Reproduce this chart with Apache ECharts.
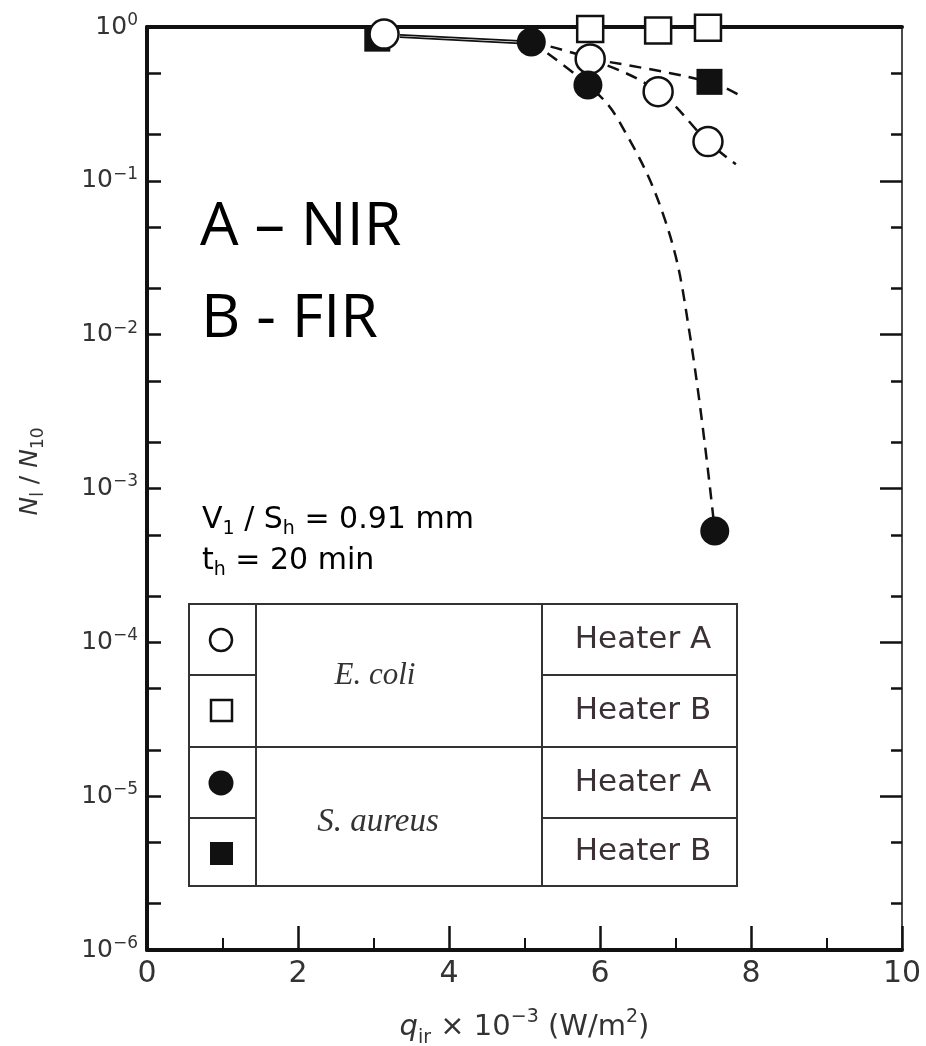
<!DOCTYPE html>
<html>
<head>
<meta charset="utf-8">
<script src="https://cdn.jsdelivr.net/npm/echarts@6/dist/echarts.min.js"></script>
<style>
  html, body { margin: 0; background: #fff; }
  #chart { width: 926px; height: 1046px; }
</style>
</head>
<body>
<div id="chart"></div>
<script>
// measured points [q_ir x 1e-3, N/N0]
const ecoliA = [[3.14, 0.90], [5.87, 0.62], [6.77, 0.38], [7.43, 0.18]];
const ecoliB = [[5.87, 0.97], [6.77, 0.95], [7.43, 0.99]];
const aureusA = [[5.09, 0.80], [5.84, 0.42], [7.52, 0.00053]];
const aureusB = [[3.05, 0.84], [7.45, 0.44]];

// hand drawn fit curves
const fitStart1 = [[3.35, 0.89], [5.0, 0.81]];
const fitStart2 = [[3.35, 0.86], [5.0, 0.78]];
const fitAureusA = [[5.09, 0.80], [5.84, 0.42], [6.24, 0.25], [6.86, 0.056], [7.19, 0.01], [7.52, 0.00053]];
const fitEcoliA = [[5.09, 0.80], [5.87, 0.62], [6.77, 0.38], [7.43, 0.18], [7.8, 0.128]];
const fitAureusB = [[5.87, 0.62], [7.45, 0.44], [7.89, 0.35]];

// axis ticks
const yLabelValues = [1, 1e-1, 1e-2, 1e-3, 1e-4, 1e-5, 1e-6];
const yMinorValues = [0.5, 0.2, 5e-2, 2e-2, 5e-3, 2e-3, 5e-4, 2e-4, 5e-5, 2e-5, 5e-6, 2e-6];
const yTickValues = yLabelValues.concat(yMinorValues);

const ink = '#111';
const txt = '#333';
const sans = 'DejaVu Sans';

function dashed(data) {
  return {
    type: 'line', data: data, smooth: 0.4, symbol: 'none', z: 2,
    lineStyle: {color: ink, width: 2.5, type: [12, 8]}
  };
}
function solid(data) {
  return {
    type: 'line', data: data, symbol: 'none', z: 2,
    lineStyle: {color: ink, width: 1.8}
  };
}

function yLabel(v) {
  let e = Math.round(Math.log10(v));
  return '10{s|' + (e === 0 ? '0' : '\u2212' + (-e)) + '}';
}

// legend table drawn as graphic
const tx = 189, ty = 604, tw = 548, th = 282;
const c1 = 256, c2 = 542;
const rows = [604, 675, 747, 818, 886];
const lineSt = {stroke: '#333', lineWidth: 2};
let table = [
  {type: 'rect', shape: {x: tx, y: ty, width: tw, height: th}, style: {fill: '#fff', stroke: '#333', lineWidth: 2}, z: 10},
  {type: 'line', shape: {x1: c1, y1: ty, x2: c1, y2: ty + th}, style: lineSt, z: 11},
  {type: 'line', shape: {x1: c2, y1: ty, x2: c2, y2: ty + th}, style: lineSt, z: 11},
  {type: 'line', shape: {x1: tx, y1: rows[2], x2: tx + tw, y2: rows[2]}, style: lineSt, z: 11},
];
[1, 3].forEach(function (r) {
  table.push({type: 'line', shape: {x1: tx, y1: rows[r], x2: c1, y2: rows[r]}, style: lineSt, z: 11});
  table.push({type: 'line', shape: {x1: c2, y1: rows[r], x2: tx + tw, y2: rows[r]}, style: lineSt, z: 11});
});
const heaters = ['Heater A', 'Heater B', 'Heater A', 'Heater B'];
heaters.forEach(function (h, i) {
  table.push({
    type: 'text', z: 12,
    style: {text: h, x: 643, y: (rows[i] + rows[i + 1]) / 2, align: 'center', verticalAlign: 'middle',
      fontSize: 31, fontFamily: sans, fill: '#3a3036'}
  });
});
table.push({type: 'circle', shape: {cx: 221, cy: 640, r: 11}, style: {fill: '#fff', stroke: ink, lineWidth: 2.5}, z: 12});
table.push({type: 'rect', shape: {x: 211, y: 700, width: 21, height: 21}, style: {fill: '#fff', stroke: ink, lineWidth: 2.5}, z: 12});
table.push({type: 'circle', shape: {cx: 221, cy: 783, r: 12.5}, style: {fill: ink}, z: 12});
table.push({type: 'rect', shape: {x: 210, y: 842, width: 23, height: 23}, style: {fill: ink}, z: 12});
table.push({type: 'text', z: 12, style: {text: 'E. coli', x: 375, y: 676, align: 'center', verticalAlign: 'middle',
  fontSize: 31, fontFamily: 'Liberation Serif', fontStyle: 'italic', fill: txt}});
table.push({type: 'text', z: 12, style: {text: 'S. aureus', x: 378, y: 822, align: 'center', verticalAlign: 'middle',
  fontSize: 33, fontFamily: 'Liberation Serif', fontStyle: 'italic', fill: txt}});

const subRich = {
  b: {fontSize: 30, fontFamily: sans, color: txt, verticalAlign: 'top'},
  sub: {fontSize: 19, fontFamily: sans, color: txt, verticalAlign: 'top', padding: [15, 0, 0, 0]}
};

const notes = [
  {type: 'text', z: 12, style: {text: 'A \u2013 NIR', x: 200, y: 228, verticalAlign: 'middle', fontSize: 61, fontFamily: 'Open Sans', fill: '#000'}},
  {type: 'text', z: 12, style: {text: 'B - FIR', x: 201, y: 320, verticalAlign: 'middle', fontSize: 61, fontFamily: 'Open Sans', fill: '#000'}},
  {type: 'text', z: 12, style: {text: '{b|V}{sub|1}{b| / S}{sub|h}{b| = 0.91 mm}', x: 202, y: 505, rich: subRich}},
  {type: 'text', z: 12, style: {text: '{b|t}{sub|h}{b| = 20 min}', x: 202, y: 546, rich: subRich}}
];

let option = {
  backgroundColor: '#fff',
  animation: false,
  grid: {left: 147, right: 24, top: 27, bottom: 96, containLabel: false, outerBoundsMode: 'none'},
  xAxis: [
    {
      type: 'value', min: 0, max: 10, interval: 2, position: 'bottom',
      axisLine: {onZero: false, lineStyle: {color: ink, width: 4}},
      axisTick: {inside: true, length: 24, lineStyle: {color: ink, width: 2.5}},
      minorTick: {show: true, splitNumber: 2, length: 12, lineStyle: {color: ink, width: 2}},
      splitLine: {show: false},
      axisLabel: {fontSize: 30, fontFamily: sans, color: txt, margin: 9, showMinLabel: true, showMaxLabel: true},
      name: '{i|q}{s|ir}{n| \u00d7 10}{p|\u22123}{n| (W/m}{p|2}{n|)}',
      nameLocation: 'middle', nameGap: 58,
      nameTextStyle: {
        rich: {
          i: {fontSize: 29, fontFamily: sans, fontStyle: 'italic', color: txt, verticalAlign: 'top', padding: [5, 0, 0, 0]},
          s: {fontSize: 19, fontFamily: sans, color: txt, verticalAlign: 'top', padding: [21, 0, 0, 0]},
          n: {fontSize: 29, fontFamily: sans, color: txt, verticalAlign: 'top', padding: [5, 0, 0, 0]},
          p: {fontSize: 19, fontFamily: sans, color: txt, verticalAlign: 'top', padding: [0, 0, 0, 0]}
        }
      }
    },
    {
      type: 'value', min: 0, max: 10, position: 'top',
      axisLine: {onZero: false, lineStyle: {color: ink, width: 4}},
      axisTick: {show: false}, axisLabel: {show: false}, splitLine: {show: false}
    }
  ],
  yAxis: [
    {
      type: 'log', logBase: 10, min: 1e-6, max: 1, position: 'left',
      axisLine: {show: true, onZero: false, lineStyle: {color: ink, width: 4}},
      axisTick: {inside: true, length: 14, customValues: yTickValues, lineStyle: {color: ink, width: 2.5}},
      splitLine: {show: false},
      axisLabel: {
        customValues: yLabelValues, margin: 9, formatter: yLabel,
        fontSize: 25, fontFamily: sans, color: txt,
        rich: {s: {fontSize: 17, fontFamily: sans, color: txt, verticalAlign: 'bottom', padding: [0, 0, 13, 0]}}
      },
      name: '{i|N}{s|l}{n| / }{i|N}{s|10}',
      nameLocation: 'middle', nameGap: 100,
      nameTextStyle: {
        padding: [0, 0, 0, 34],
        rich: {
          i: {fontSize: 25, fontFamily: sans, fontStyle: 'italic', color: txt, verticalAlign: 'top'},
          n: {fontSize: 25, fontFamily: sans, color: txt, verticalAlign: 'top'},
          s: {fontSize: 17, fontFamily: sans, color: txt, verticalAlign: 'top', padding: [12, 0, 0, 0]}
        }
      }
    },
    {
      type: 'log', logBase: 10, min: 1e-6, max: 1, position: 'right',
      axisLine: {show: true, onZero: false, lineStyle: {color: ink, width: 1.5}},
      axisTick: {inside: true, length: 22, customValues: yLabelValues, lineStyle: {color: ink, width: 2.5}},
      axisLabel: {show: false}, splitLine: {show: false}
    },
    {
      type: 'log', logBase: 10, min: 1e-6, max: 1, position: 'right',
      axisLine: {show: false, onZero: false},
      axisTick: {inside: true, length: 11, customValues: yMinorValues, lineStyle: {color: ink, width: 2.5}},
      axisLabel: {show: false}, splitLine: {show: false}
    }
  ],
  graphic: table.concat(notes),
  series: [
    solid(fitStart1),
    solid(fitStart2),
    dashed(fitAureusA),
    dashed(fitEcoliA),
    dashed(fitAureusB),
    {type: 'scatter', name: 'S. aureus Heater B', data: aureusB, symbol: 'rect', symbolSize: 26, z: 3,
      itemStyle: {color: ink, opacity: 1}},
    {type: 'scatter', name: 'E. coli Heater B', data: ecoliB, symbol: 'rect', symbolSize: 26, z: 4,
      itemStyle: {color: '#fff', borderColor: ink, borderWidth: 2.5, opacity: 1}},
    {type: 'scatter', name: 'E. coli Heater A', data: ecoliA, symbol: 'circle', symbolSize: 29, z: 4,
      itemStyle: {color: '#fff', borderColor: ink, borderWidth: 2.5, opacity: 1}},
    {type: 'scatter', name: 'S. aureus Heater A', data: aureusA, symbol: 'circle', symbolSize: 29, z: 5,
      itemStyle: {color: ink, opacity: 1}}
  ]
};

let chart = echarts.init(document.getElementById('chart'), null, {width: 926, height: 1046});
chart.setOption(option);
</script>
</body>
</html>
